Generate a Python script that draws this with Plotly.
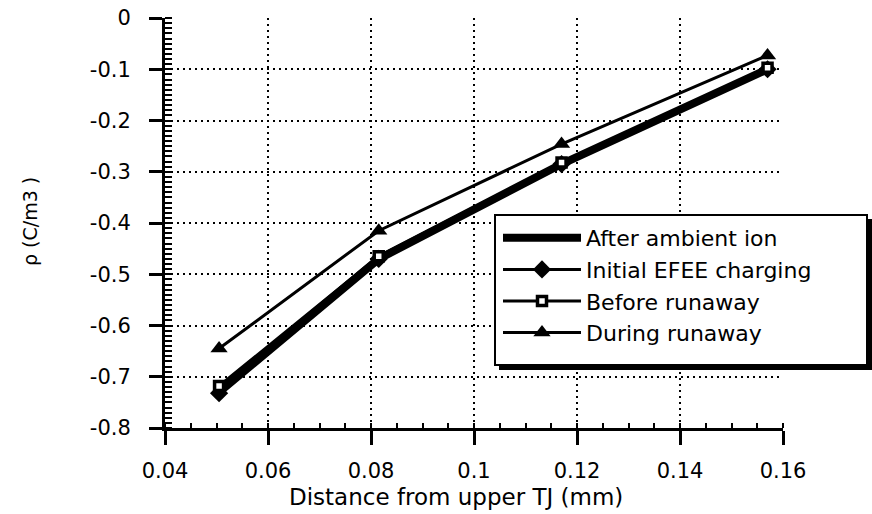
import plotly.graph_objects as go

# ---- data ----
distance_mm = [0.0505, 0.0815, 0.117, 0.157]
after_ambient_ion = [-0.730, -0.470, -0.285, -0.100]
initial_efee_charging = [-0.732, -0.470, -0.285, -0.100]
before_runaway = [-0.718, -0.465, -0.282, -0.097]
during_runaway = [-0.645, -0.415, -0.246, -0.073]

x_tickvals = [0.04, 0.06, 0.08, 0.10, 0.12, 0.14, 0.16]
x_ticktext = ["0.04", "0.06", "0.08", "0.1", "0.12", "0.14", "0.16"]
y_tickvals = [0, -0.1, -0.2, -0.3, -0.4, -0.5, -0.6, -0.7, -0.8]
y_ticktext = ["0", "-0.1", "-0.2", "-0.3", "-0.4", "-0.5", "-0.6", "-0.7", "-0.8"]

FONT = "DejaVu Sans"

fig = go.Figure()
fig.add_trace(go.Scatter(x=distance_mm, y=after_ambient_ion, mode="lines",
                         name="After ambient ion", legendgroup="a",
                         line=dict(color="black", width=8)))
fig.add_trace(go.Scatter(x=distance_mm, y=initial_efee_charging, mode="lines+markers",
                         name="Initial EFEE charging", legendgroup="b",
                         line=dict(color="black", width=3),
                         marker=dict(symbol="diamond", size=14, color="black")))
fig.add_trace(go.Scatter(x=distance_mm, y=before_runaway, mode="lines+markers",
                         name="Before runaway", legendgroup="c",
                         line=dict(color="black", width=3),
                         marker=dict(symbol="square", size=9, color="white",
                                     line=dict(color="black", width=3.5))))
fig.add_trace(go.Scatter(x=distance_mm, y=during_runaway, mode="lines+markers",
                         name="During runaway", legendgroup="d",
                         line=dict(color="black", width=3),
                         marker=dict(symbol="triangle-up", size=15, color="black")))

W, H = 872, 514
L, R, T, B = 165, 872 - 783, 18, 514 - 428   # plot area in pixels
pw, ph = W - L - R, H - T - B

def px_x(p):
    return (p - L) / pw

def px_y(p):
    return (H - B - p) / ph

grid = dict(showgrid=True, gridcolor="black", gridwidth=2, griddash="2px,4px")

fig.update_layout(
    width=W, height=H,
    margin=dict(l=L, r=R, t=T, b=B, autoexpand=False),
    paper_bgcolor="white", plot_bgcolor="white",
    font=dict(family=FONT, size=21, color="black"),
    showlegend=True,
    legend=dict(x=px_x(498), y=px_y(217), xanchor="left", yanchor="top",
                bgcolor="rgba(0,0,0,0)", borderwidth=0,
                font=dict(family=FONT, size=22, color="black"),
                itemwidth=78, tracegroupgap=1, traceorder="normal"),
    xaxis=dict(range=[0.04, 0.16], tickmode="array", tickvals=x_tickvals,
               ticktext=x_ticktext, ticks="outside", ticklen=14, tickwidth=3,
               tickcolor="black", showline=True, linecolor="black", linewidth=3,
               zeroline=False, ticklabelstandoff=8, ticklabeloverflow="allow",
               minor=dict(dtick=0.005, tick0=0.04, ticks="inside", ticklen=5,
                          tickwidth=2, tickcolor="black", showgrid=False),
               **grid),
    yaxis=dict(range=[-0.8, 0], tickmode="array", tickvals=y_tickvals,
               ticktext=y_ticktext, ticks="outside", ticklen=13, tickwidth=3,
               tickcolor="black", showline=True, linecolor="black", linewidth=3,
               zeroline=False, ticklabelstandoff=14, ticklabeloverflow="allow",
               minor=dict(dtick=0.01, tick0=0, ticks="inside", ticklen=7,
                          tickwidth=2, tickcolor="black", showgrid=False),
               **grid),
    xaxis2=dict(range=[0.04, 0.16], overlaying="x", tickmode="array",
                tickvals=x_tickvals, ticks="inside", ticklen=13, tickwidth=3,
                tickcolor="black", showticklabels=False, showgrid=False,
                zeroline=False, showline=False),
    yaxis2=dict(range=[-0.8, 0], overlaying="y", tickmode="array",
                tickvals=y_tickvals, ticks="inside", ticklen=13, tickwidth=3,
                tickcolor="black", showticklabels=False, showgrid=False,
                zeroline=False, showline=False),
    shapes=[
        dict(type="rect", xref="paper", yref="paper", layer="above",
             x0=px_x(499), x1=px_x(872), y0=px_y(370), y1=px_y(219),
             fillcolor="black", line=dict(width=0)),
        dict(type="rect", xref="paper", yref="paper", layer="above",
             x0=px_x(495), x1=px_x(867), y0=px_y(365), y1=px_y(215),
             fillcolor="white", line=dict(color="black", width=2)),
    ],
    annotations=[
        dict(text="Distance from upper TJ (mm)", xref="paper", yref="paper",
             x=px_x(456), y=px_y(497), xanchor="center", yanchor="middle",
             showarrow=False, font=dict(family=FONT, size=23, color="black")),
        dict(text="ρ (C/m3 )", xref="paper", yref="paper", textangle=-90,
             x=px_x(30), y=px_y(222), xanchor="center", yanchor="middle",
             showarrow=False, font=dict(family=FONT, size=19, color="black")),
    ],
)

fig.write_html(
    "out.html",
    config={"displayModeBar": False},
    post_script="document.body.style.margin='0';document.body.style.overflow='hidden';",
)
